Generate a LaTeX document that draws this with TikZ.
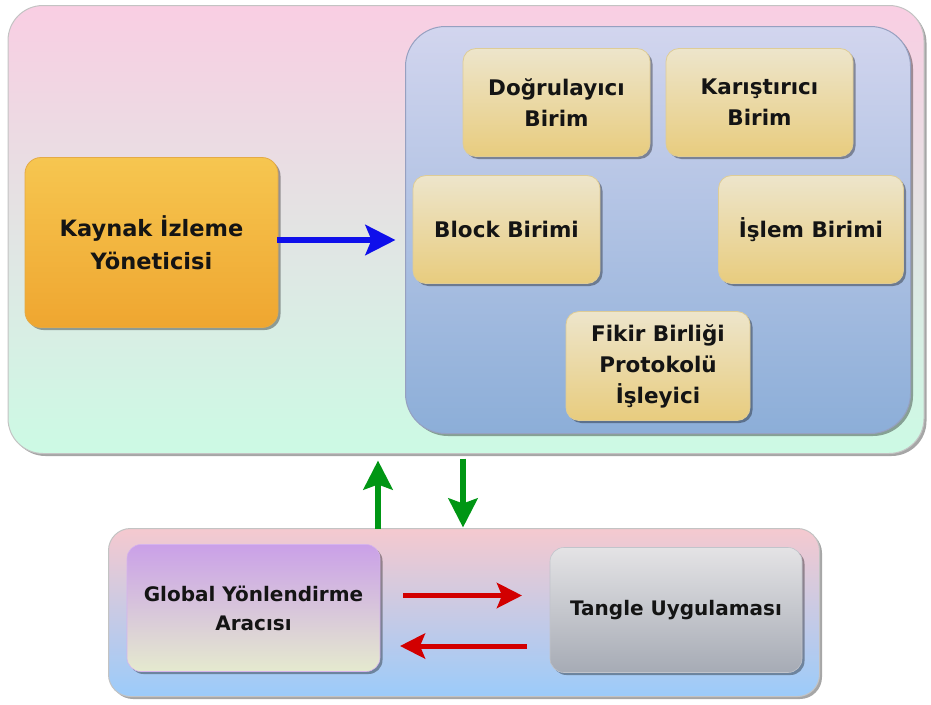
\documentclass[tikz,border=0pt]{standalone}
\usepackage{fontspec}
\setmainfont{DejaVu Sans}
\usetikzlibrary{arrows.meta,shadows,calc}
\definecolor{outtop}{RGB}{249,206,227}
\definecolor{outbot}{RGB}{204,250,228}
\definecolor{outline}{RGB}{195,195,195}
\definecolor{paneltop}{RGB}{210,213,238}
\definecolor{panelbot}{RGB}{140,174,216}
\definecolor{panelline}{RGB}{150,160,192}
\definecolor{yeltop}{RGB}{237,229,203}
\definecolor{yelbot}{RGB}{232,204,126}
\definecolor{yelline}{RGB}{222,204,150}
\definecolor{kaytop}{RGB}{246,198,80}
\definecolor{kaybot}{RGB}{239,166,48}
\definecolor{kayline}{RGB}{228,170,70}
\definecolor{bottop}{RGB}{245,201,207}
\definecolor{botbot}{RGB}{155,203,250}
\definecolor{gltop}{RGB}{202,160,232}
\definecolor{glbot}{RGB}{229,234,206}
\definecolor{tatop}{RGB}{228,227,229}
\definecolor{tabot}{RGB}{166,171,181}
\definecolor{txt}{RGB}{20,20,20}
\definecolor{bluearrow}{RGB}{15,15,235}
\definecolor{greenarrow}{RGB}{0,150,20}
\definecolor{redarrow}{RGB}{210,0,0}
\begin{document}
\begin{tikzpicture}[x=1pt,y=-1pt,
  shade/.style={drop shadow={shadow xshift=2.5pt,shadow yshift=-2.5pt,fill=black,opacity=0.35}},
  container/.style={shade,inner sep=0pt,outer sep=0pt,line width=1pt},
  unit/.style={shade,rounded corners=13pt,inner sep=0pt,outer sep=0pt,align=center,text=txt,
    draw=yelline,line width=0.8pt,top color=yeltop,bottom color=yelbot,
    font=\bfseries\fontsize{21.5}{31}\selectfont},
  lower/.style={shade,rounded corners=14pt,inner sep=0pt,outer sep=0pt,align=center,text=txt,
    line width=0.6pt,font=\bfseries\fontsize{20}{29}\selectfont},
  bluearr/.style={draw=bluearrow,line width=6pt,-{Stealth[length=30pt,width=30pt,inset=6pt]}},
  greenarr/.style={draw=greenarrow,line width=6.5pt,-{Stealth[length=29pt,width=29pt,inset=5pt]}},
  redarr/.style={draw=redarrow,line width=5pt,-{Stealth[length=25pt,width=25pt,inset=5pt]}}
]
\useasboundingbox (0,0) rectangle (931,704);
% upper container
\node[container,rounded corners=35pt,draw=outline,top color=outtop,bottom color=outbot,
  minimum width=916pt,minimum height=448pt] (outer) at (466,229.5) {};
\node[container,rounded corners=40pt,draw=panelline,top color=paneltop,bottom color=panelbot,
  minimum width=505pt,minimum height=407pt] (panel) at (658,230) {};
\node[unit,minimum width=187pt,minimum height=108pt] (dogr) at (556.5,102.5) {Doğrulayıcı\\Birim};
\node[unit,minimum width=187pt,minimum height=108pt] (kar) at (759.5,102.5) {Karıştırıcı\\Birim};
\node[unit,minimum width=187pt,minimum height=108pt] (block) at (506.5,229.5) {Block Birimi};
\node[unit,minimum width=185pt,minimum height=108pt] (islem) at (811,229.5) {İşlem Birimi};
\node[unit,minimum width=184pt,minimum height=109pt] (fikir) at (658,366) {Fikir Birliği\\Protokolü\\İşleyici};
\node[unit,rounded corners=16pt,draw=kayline,top color=kaytop,bottom color=kaybot,
  minimum width=253pt,minimum height=170pt,font=\bfseries\fontsize{22.5}{33}\selectfont]
  (kaynak) at (151.5,242.5) {Kaynak İzleme\\Yöneticisi};
% lower container
\node[container,rounded corners=22pt,draw=outline,top color=bottop,bottom color=botbot,
  minimum width=711pt,minimum height=168pt] (bottombox) at (464,612.5) {};
\node[lower,draw=gltop!80!white,top color=gltop,bottom color=glbot,
  minimum width=253pt,minimum height=127pt] (global) at (253.5,608) {Global Yönlendirme\\Aracısı};
\node[lower,draw=tabot!70!white,top color=tatop,bottom color=tabot,
  minimum width=252pt,minimum height=125pt] (tangle) at (676,610) {Tangle Uygulaması};
% connectors
\coordinate (ba) at (0,240);
\coordinate (gu) at (378,0);
\coordinate (gd) at (463,0);
\coordinate (r1) at (0,595.5);
\coordinate (r2) at (0,646);
\draw[bluearr,shorten >=10pt,shorten <=-1pt] (kaynak.east |- ba) -- (panel.west |- ba);
\draw[greenarr,shorten >=7pt] (bottombox.north -| gu) -- (outer.south -| gu);
\draw[greenarr,shorten <=5pt,shorten >=1pt] (outer.south -| gd) -- (bottombox.north -| gd);
\draw[redarr,shorten <=23pt,shorten >=28pt] (global.east |- r1) -- (tangle.west |- r1);
\draw[redarr,shorten <=23pt,shorten >=20pt] (tangle.west |- r2) -- (global.east |- r2);
\end{tikzpicture}
\end{document}
